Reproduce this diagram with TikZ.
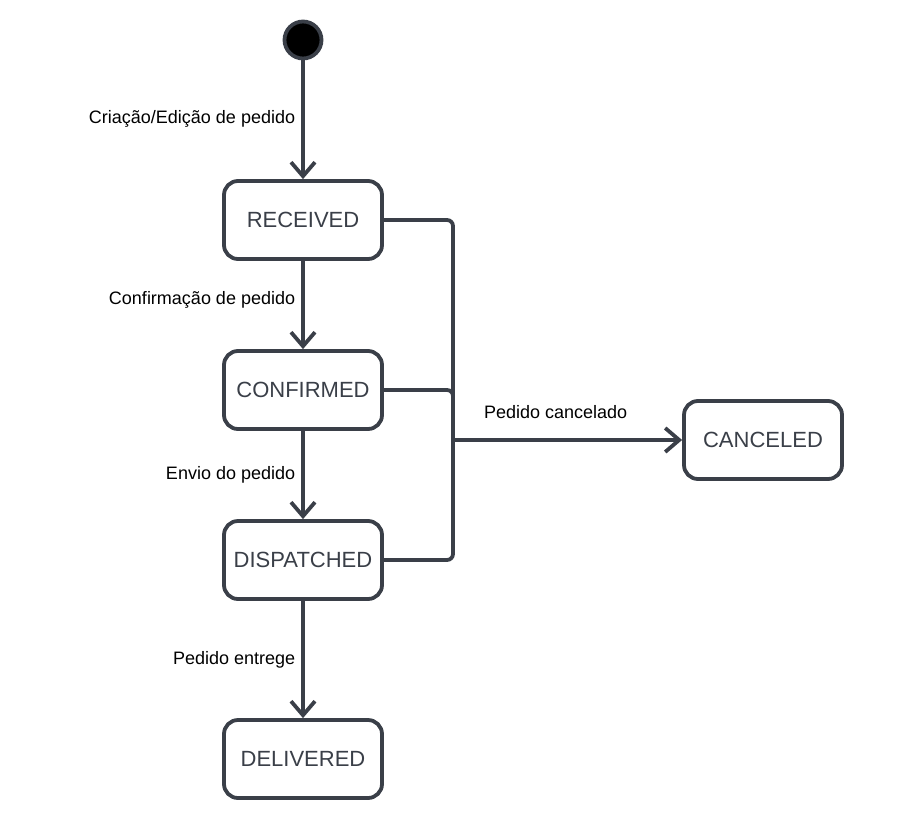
\documentclass[tikz,border=0pt]{standalone}
\usepackage{fontspec}
\setmainfont{Liberation Sans}
\usetikzlibrary{arrows.meta, positioning}
\definecolor{ink}{RGB}{58,63,72}

\tikzset{
  statebox/.style={draw=ink, line width=3.8pt, rounded corners=14pt, fill=white,
    minimum width=158pt, minimum height=78pt, text=ink, font=\fontsize{22}{26}\selectfont},
  conn/.style={draw=ink, line width=3.8pt, -{Straight Barb[length=14pt, width=24pt]}},
  link/.style={draw=ink, line width=3.8pt, rounded corners=6pt},
  lbl/.style={font=\fontsize{18}{22}\selectfont, text=black, inner sep=0pt}
}

\begin{document}
\begin{tikzpicture}[x=1pt, y=-1pt]
  \useasboundingbox (0,0) rectangle (907,822);
  % start
  \node[circle, draw=ink, line width=3.8pt, fill=black, minimum size=37pt, inner sep=0pt] (start) at (303,40) {};
  % states
  \node[statebox] (rec) at (303,220) {RECEIVED};
  \node[statebox] (conf) at (303,390) {CONFIRMED};
  \node[statebox] (dis) at (303,560) {DISPATCHED};
  \node[statebox] (del) at (303,759) {DELIVERED};
  \node[statebox] (can) at (763,440) {CANCELED};
  % main flow
  \draw[conn] (start) -- node[lbl, left=6pt, yshift=1pt] {Criação/Edição de pedido} (rec);
  \draw[conn] (rec) -- node[lbl, left=6pt, yshift=5pt] {Confirmação de pedido} (conf);
  \draw[conn] (conf) -- node[lbl, left=6pt, yshift=0pt] {Envio do pedido} (dis);
  \draw[conn] (dis) -- node[lbl, left=6pt, yshift=0pt] {Pedido entrege} (del);
  % cancel branch
  \coordinate (j) at (453,440);
  \draw[link] (rec.east) -| (j);
  \draw[link] (conf.east) -| (j);
  \draw[link] (dis.east) -| (j);
  \draw[conn] (j) -- node[lbl, above=19pt, xshift=-12pt] {Pedido cancelado} (can);
\end{tikzpicture}
\end{document}
